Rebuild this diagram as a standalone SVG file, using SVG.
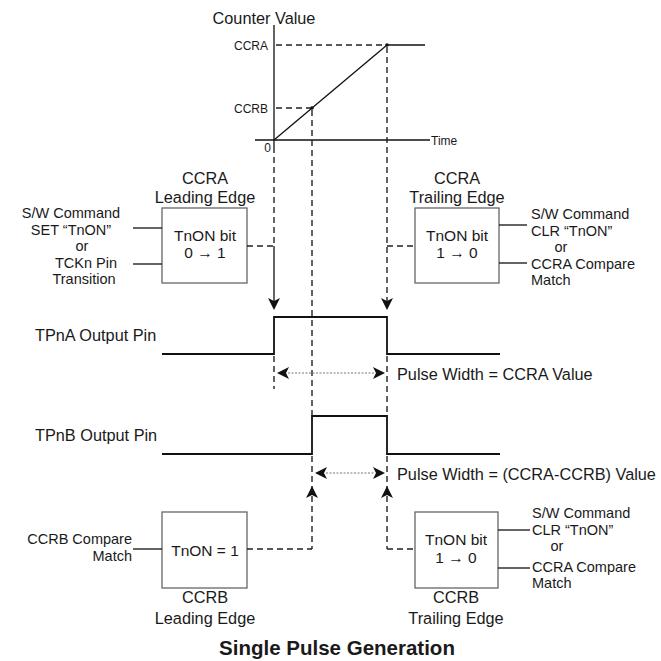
<svg xmlns="http://www.w3.org/2000/svg" width="661" height="661" viewBox="0 0 661 661">
<defs>
<style>
text{font-family:"Liberation Sans",Arial,sans-serif;fill:#1a1a1a;font-size:16.3px}
.st{font-size:14.5px}
.bx{font-size:15.5px}
.sm{font-size:12px}
.mid{text-anchor:middle}
.end{text-anchor:end}
.title{font-size:20.5px;font-weight:bold;text-anchor:middle}
.box{fill:#fff;stroke:#666;stroke-width:1.3}
.ln{fill:none;stroke:#111;stroke-width:1.3}
.sig{fill:none;stroke:#111;stroke-width:1.8}
.dash{fill:none;stroke:#222;stroke-width:1.4;stroke-dasharray:6,4}
.dot{fill:none;stroke:#777;stroke-width:1;stroke-dasharray:2,1.5}
.ah{fill:#111;stroke:none}
</style>
<path id="arrDown" d="M0,0 L-6,-12 L0,-9 L6,-12 Z"/>
</defs>
<rect width="661" height="661" fill="#fff"/>

<g id="graph">
<text x="264" y="24" class="mid">Counter Value</text>
<line x1="274" y1="25" x2="274" y2="147" class="ln"/>
<line x1="255" y1="140" x2="430" y2="140" class="ln"/>
<line x1="274" y1="140" x2="387" y2="45" class="ln" stroke-width="1.5"/>
<line x1="387" y1="45" x2="425" y2="45" class="ln" stroke-width="1.5"/>
<line x1="276" y1="45" x2="387" y2="45" class="dash"/>
<line x1="276" y1="108" x2="312" y2="108" class="dash" stroke-width="1"/>
<circle cx="312" cy="108" r="1.8" fill="#111"/>
<circle cx="387" cy="45" r="1.8" fill="#111"/>
<text x="268" y="50" class="sm end">CCRA</text>
<text x="268" y="113" class="sm end">CCRB</text>
<text x="271" y="152" class="sm end">0</text>
<text x="431" y="145" class="sm" font-size="13">Time</text>
</g>

<g id="ccra-leading">
<rect x="162" y="208" width="85" height="75" class="box"/>
<text x="205" y="184" class="mid">CCRA</text>
<text x="205" y="203" class="mid">Leading Edge</text>
<text x="205" y="240.5" class="bx mid">TnON bit</text>
<text x="205" y="258" class="bx mid">0 → 1</text>
<text x="71" y="218" class="st mid">S/W Command</text>
<text x="71" y="234.5" class="st mid">SET  “TnON”</text>
<text x="82" y="251" class="st mid">or</text>
<text x="86" y="267.5" class="st mid">TCKn Pin</text>
<text x="84" y="284" class="st mid">Transition</text>
<line x1="133" y1="228" x2="162" y2="228" class="ln"/>
<line x1="133" y1="264" x2="162" y2="264" class="ln"/>
</g>

<g id="ccra-trailing">
<rect x="415" y="208" width="84" height="75" class="box"/>
<text x="457" y="184" class="mid">CCRA</text>
<text x="457" y="203" class="mid">Trailing Edge</text>
<text x="457" y="240.5" class="bx mid">TnON bit</text>
<text x="457" y="258" class="bx mid">1 → 0</text>
<text x="531" y="219" class="st">S/W Command</text>
<text x="531" y="235.5" class="st">CLR  “TnON”</text>
<text x="561" y="252" class="st mid">or</text>
<text x="531" y="268.5" class="st">CCRA Compare</text>
<text x="531" y="285" class="st">Match</text>
<line x1="499" y1="225" x2="527" y2="225" class="ln"/>
<line x1="499" y1="263" x2="527" y2="263" class="ln"/>
</g>

<g id="tpna">
<text x="35" y="341">TPnA Output Pin</text>
<polyline points="162,354 274,354 274,317 387,317 387,354 500,354" class="sig"/>
<text x="397" y="380">Pulse Width = CCRA Value</text>
</g>

<g id="tpnb">
<text x="35" y="441">TPnB Output Pin</text>
<polyline points="162,454 312,454 312,416 387,416 387,454 500,454" class="sig"/>
<text x="397" y="480">Pulse Width = (CCRA-CCRB) Value</text>
</g>

<g id="ccrb-leading">
<rect x="162" y="512" width="85" height="76" class="box"/>
<text x="205" y="556" class="bx mid">TnON = 1</text>
<text x="205" y="603" class="mid">CCRB</text>
<text x="205" y="624" class="mid">Leading Edge</text>
<text x="132" y="544" class="st end">CCRB Compare</text>
<text x="132" y="560.5" class="st end">Match</text>
<line x1="133" y1="549" x2="162" y2="549" class="ln"/>
</g>

<g id="ccrb-trailing">
<rect x="415" y="512" width="83" height="76" class="box"/>
<text x="456" y="545" class="bx mid">TnON bit</text>
<text x="456" y="562.5" class="bx mid">1 → 0</text>
<text x="456" y="603" class="mid">CCRB</text>
<text x="456" y="624" class="mid">Trailing Edge</text>
<text x="532" y="518" class="st">S/W Command</text>
<text x="532" y="534.5" class="st">CLR  “TnON”</text>
<text x="557" y="551" class="st mid">or</text>
<text x="532" y="571.5" class="st">CCRA Compare</text>
<text x="532" y="588" class="st">Match</text>
<line x1="498" y1="530" x2="530" y2="530" class="ln"/>
<line x1="498" y1="568" x2="530" y2="568" class="ln"/>
</g>

<g id="connectors">
<line x1="274" y1="147" x2="274" y2="246" class="dash"/>
<line x1="247" y1="246" x2="274" y2="246" class="dash"/>
<line x1="274" y1="246" x2="274" y2="302" class="ln" stroke-width="1.5"/>
<use href="#arrDown" x="274" y="310" class="ah"/>
<line x1="274" y1="356" x2="274" y2="389" class="dash"/>
<line x1="312" y1="110" x2="312" y2="416" class="dash"/>
<line x1="312" y1="456" x2="312" y2="549" class="dash"/>
<line x1="247" y1="549" x2="312" y2="549" class="dash"/>
<use href="#arrDown" transform="translate(312,486) rotate(180)" class="ah"/>
<line x1="387" y1="47" x2="387" y2="302" class="dash"/>
<line x1="387" y1="246" x2="415" y2="246" class="dash"/>
<use href="#arrDown" x="387" y="310" class="ah"/>
<line x1="387" y1="356" x2="387" y2="416" class="dash"/>
<line x1="387" y1="456" x2="387" y2="549" class="dash"/>
<line x1="387" y1="549" x2="415" y2="549" class="dash"/>
<use href="#arrDown" transform="translate(387,486) rotate(180)" class="ah"/>
<line x1="288" y1="373" x2="374" y2="373" class="dot"/>
<use href="#arrDown" transform="translate(277,373) rotate(90)" class="ah"/>
<use href="#arrDown" transform="translate(385,373) rotate(-90)" class="ah"/>
<line x1="326" y1="473" x2="374" y2="473" class="dot"/>
<use href="#arrDown" transform="translate(315,473) rotate(90)" class="ah"/>
<use href="#arrDown" transform="translate(385,473) rotate(-90)" class="ah"/>
</g>

<text x="337" y="655" class="title">Single Pulse Generation</text>
</svg>
